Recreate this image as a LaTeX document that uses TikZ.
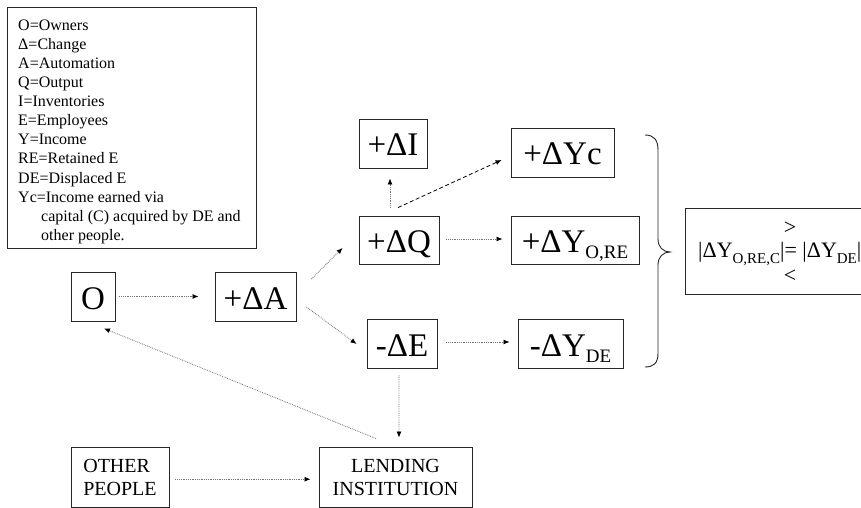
\documentclass[tikz,border=0pt]{standalone}
\usepackage{fontspec}
\setmainfont{Liberation Serif}
\usetikzlibrary{arrows.meta,calc}
\newcommand\lsub[1]{\smash{\raisebox{-6bp}{\fontsize{19bp}{19bp}\selectfont #1}}}
\newcommand\rsub[1]{\smash{\raisebox{-6bp}{\fontsize{15bp}{15bp}\selectfont #1}}}
\begin{document}
\begin{tikzpicture}[x=1bp,y=-1bp,
  bx/.style={draw=black!85, line width=0.9bp, inner sep=0pt,
    font=\fontsize{33bp}{38bp}\selectfont, text height=25bp, text depth=0bp},
  tbx/.style={draw=black!85, line width=0.9bp, inner sep=0pt,
    font=\fontsize{20bp}{23bp}\selectfont},
  conn/.style={densely dotted, draw=black!55, line width=0.8bp,
    -{Latex[length=6bp,width=5bp,black]}},
  dconn/.style={dash pattern=on 4bp off 2.5bp, draw=black, line width=0.8bp,
    -{Latex[length=6bp,width=5bp]}}]
\useasboundingbox (0,0) rectangle (861,508);
\clip (0,0) rectangle (861,508);
\fill[white] (0,0) rectangle (861,508);

% legend
\node[draw=black!85, line width=0.9bp, minimum width=249bp, minimum height=241bp,
  anchor=north west, inner sep=0pt] (legend) at (7,7) {};
\node[anchor=north west, inner sep=0pt, align=left,
  font=\fontsize{16bp}{19.1bp}\selectfont] (legtext) at (18,19.5)
  {O=Owners\\ Δ=Change\\ A=Automation\\ Q=Output\\ I=Inventories\\ E=Employees\\
   Y=Income\\ RE=Retained E\\ DE=Displaced E\\ Yc=Income earned via\\
   \hspace*{23bp}capital (C) acquired by DE and\\ \hspace*{23bp}other people.};

% boxes
\node[bx, minimum width=44bp, minimum height=49bp] (O) at (93,296.5) {O};
\node[bx, minimum width=81bp, minimum height=49bp] (A) at (255.5,296.5) {+ΔA};
\node[bx, minimum width=80bp, minimum height=48bp] (Q) at (399,240) {+ΔQ};
\node[bx, minimum width=68bp, minimum height=49bp] (I) at (393,143.5) {+ΔI};
\node[bx, minimum width=103bp, minimum height=49bp] (Yc) at (562.5,152.5) {+ΔYc};
\node[bx, minimum width=128bp, minimum height=48bp] (YORE) at (575,240) {+ΔY\lsub{O,RE}};
\node[bx, minimum width=70bp, minimum height=49bp] (E) at (402,343.5) {-ΔE};
\node[bx, minimum width=105bp, minimum height=49bp] (YDE) at (570.5,343.5) {-ΔY\lsub{DE}};
\node[tbx, align=center, minimum width=153bp, minimum height=60.5bp] (LEND) at (395.5,477.25)
  {LENDING\\INSTITUTION};
\node[tbx, align=left, minimum width=98bp, minimum height=60.5bp] (OTHER) at (120,477.25)
  {OTHER\\PEOPLE};

% result box
\node[draw=black!85, line width=0.9bp, inner sep=0pt, minimum width=181bp,
  minimum height=86bp] (res) at (775.5,251) {};
\node[anchor=base west, inner sep=0pt, font=\fontsize{22bp}{26bp}\selectfont] (eq) at (698,258)
  {|ΔY\rsub{O,RE,C}|= |ΔY\rsub{DE}|};
\node[inner sep=0pt, font=\fontsize{22bp}{26bp}\selectfont] (gt) at (790,228) {>};
\node[inner sep=0pt, font=\fontsize{22bp}{26bp}\selectfont] (lt) at (790,276) {<};

% brace
\draw[line width=0.9bp, black!85] (645,135) .. controls (654,135) and (658,140) .. (658,150)
  -- (658,239) .. controls (658,247) and (663,252) .. (670,252)
  .. controls (663,252) and (658,257) .. (658,265)
  -- (658,353) .. controls (658,363) and (654,367) .. (645,367);

% connectors
\draw[conn] ($(O.east)+(4,0)$) -- ($(A.west)+(-16,0)$);
\draw[conn] ($(A.east)+(15,-17.5)$) -- ($(Q.west)+(-16,8)$);
\draw[conn] ($(A.east)+(10,10.5)$) -- ($(E.west)+(-10,0.5)$);
\draw[conn] ($(Q.north)+(-9,-8)$) -- ($(I.south)+(-3,10)$);
\draw[dconn] ($(Q.north)+(-1,-8)$) -- ($(Yc.west)+(-9,7.5)$);
\draw[conn] ($(Q.east)+(7,-1)$) -- ($(YORE.west)+(-8,-1)$);
\draw[conn] ($(E.east)+(9,-1.5)$) -- ($(YDE.west)+(-8,-1.5)$);
\draw[conn] ($(E.south)+(-3,7)$) -- ($(LEND.north)+(3.5,-9)$);
\draw[conn] ($(LEND.north)+(-19.5,-8)$) -- ($(O.south)+(11,7)$);
\draw[conn] ($(OTHER.east)+(6,2)$) -- ($(LEND.west)+(-8,2)$);
\end{tikzpicture}
\end{document}
